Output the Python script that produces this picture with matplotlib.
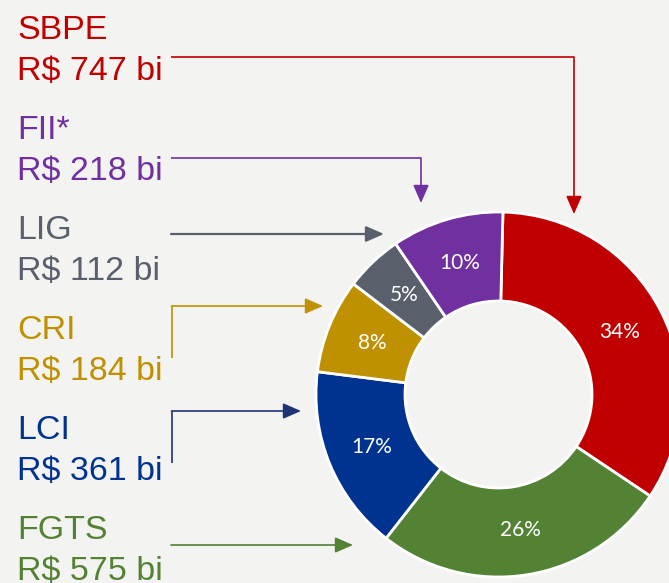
import matplotlib
matplotlib.use("Agg")
import matplotlib.pyplot as plt

# ---- data ----
categories = ["SBPE", "FGTS", "LCI", "CRI", "LIG", "FII"]
label_names = ["SBPE", "FGTS", "LCI", "CRI", "LIG", "FII*"]
values_bi = [747, 575, 361, 184, 112, 218]
pct_labels = ["34%", "26%", "17%", "8%", "5%", "10%"]
colors = ["#C00000", "#548235", "#00338F", "#BF9000", "#59606C", "#7030A0"]
text_colors = ["#C00000", "#548235", "#00338F", "#BF9000", "#59606C", "#7030A0"]
arrow_colors = ["#C00000", "#548235", "#1F3377", "#BF9000", "#59606C", "#7030A0"]

W, H = 669, 583
BG = "#F3F3F1"
fig = plt.figure(figsize=(W / 100, H / 100), dpi=100, facecolor=BG)
ax = fig.add_axes([0, 0, 1, 1])
ax.set_xlim(0, W)
ax.set_ylim(0, H)
ax.set_aspect("equal")
ax.axis("off")
ax.set_facecolor(BG)

def Y(y):
    return H - y

# donut
cx, cy, R = 498.5, Y(394.5), 182.5
wedges, texts = ax.pie(values_bi, colors=colors, startangle=88.6, counterclock=False,
                       radius=R, center=(cx, cy), frame=True,
                       wedgeprops=dict(width=R - 93.5, edgecolor="white", linewidth=2),
                       labels=pct_labels, labeldistance=0.75,
                       textprops=dict(color="white", fontsize=15, family="Lato"))
for t in texts:
    t.set_ha("center"); t.set_va("center")
ax.set_xlim(0, W)
ax.set_ylim(0, H)
ax.axis("off")

# left labels: order top to bottom
order = ["SBPE", "FII", "LIG", "CRI", "LCI", "FGTS"]
for i, cat in enumerate(order):
    k = categories.index(cat)
    base1 = 39 + 100 * i
    base2 = 80 + 100 * i
    ax.text(17, Y(base1), label_names[k], color=text_colors[k], fontsize=24.5,
            family="Liberation Sans", va="baseline", ha="left")
    ax.text(17, Y(base2), f"R$ {values_bi[k]} bi", color=text_colors[k], fontsize=24.5,
            family="Liberation Sans", va="baseline", ha="left")

# connectors (path points in image pixels, last segment gets the arrowhead)
paths = {
    "SBPE": [(171, 57), (574, 57), (574, 214)],
    "FII": [(171, 158), (421, 158), (421, 203)],
    "LIG": [(171, 234), (384, 234)],
    "CRI": [(171.5, 358), (171.5, 306), (323, 306)],
    "LCI": [(171.5, 463), (171.5, 411), (301, 411)],
    "FGTS": [(171, 545), (353, 545)],
}
for cat, pts in paths.items():
    k = categories.index(cat)
    c = arrow_colors[k]
    lw = 1.6 if cat == "LIG" else 1.2
    xs = [p[0] for p in pts[:-1]]
    ys = [Y(p[1]) for p in pts[:-1]]
    if len(xs) > 1:
        ax.plot(xs, ys, color=c, lw=lw, solid_capstyle="butt", solid_joinstyle="miter")
    ax.annotate("", xy=(pts[-1][0], Y(pts[-1][1])), xytext=(pts[-2][0], Y(pts[-2][1])),
                arrowprops=dict(arrowstyle="-|>,head_length=1.1,head_width=0.48",
                                color=c, lw=lw, shrinkA=0, shrinkB=0,
                                mutation_scale=10))

fig.savefig("out.png", dpi=100, facecolor=BG)
